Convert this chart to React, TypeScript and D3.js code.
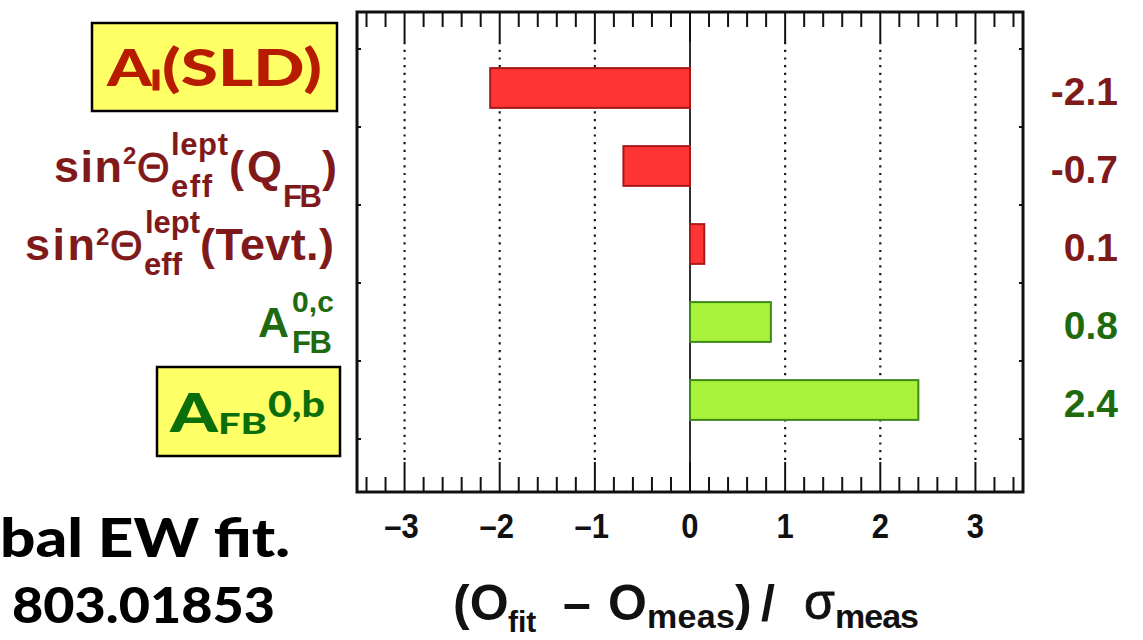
import React from 'react';
import * as d3 from 'd3';

/* ─── data ─── */
const categories = ['Al(SLD)', 'sin2Theta(QFB)', 'sin2Theta(Tevt.)', 'AFB0c', 'AFB0b'];
const pulls = [-2.1, -0.7, 0.15, 0.85, 2.4];
const pullLabels = ['-2.1', '-0.7', '0.1', '0.8', '2.4'];
const sectors = ['lep', 'lep', 'lep', 'had', 'had'];
const tickValues = [-3, -2, -1, 0, 1, 2, 3];

/* ─── palette ─── */
const C = {
    redFill: '#ff3434',
    redStroke: '#a81818',
    greenFill: '#a8f23c',
    greenStroke: '#3c8a18',
    maroon: '#801a1a',
    green: '#1e6a0e',
    boxRed: '#b81c00',
    boxGreen: '#0a6e0a',
    yellow: '#ffff66',
    grid: '#1a1a1a',
};

const ROOT = "'Liberation Sans', Arial, sans-serif";
const GILL = "Lato, 'Open Sans', sans-serif";

const W = 1143, H = 640;
const frame = { left: 357, right: 1023, top: 12, bottom: 492 };

export default function App() {
    const x = d3.scaleLinear().domain([-3.5, 3.5]).range([frame.left, frame.right]);
    const y = d3.scaleBand<string>().domain(categories).range([49, 439]).padding(0);
    const bw = y.bandwidth();
    const cy = (i: number) => (y(categories[i]) as number) + bw / 2;

    const minor = x.ticks(35).filter(t => Math.abs(Math.round(t) - t) > 1e-6);
    const bounds = d3.range(categories.length + 1).map(i => 49 + i * bw);

    const t = (props: any, s: string) => (
        <text fontFamily={ROOT} fontWeight={700} {...props}>{s}</text>
    );

    // category labels, laid out piece by piece like the ROOT latex
    const lab2 = (c: number) => (
        <g fill={C.maroon}>
            {t({ x: 54, y: c + 16, fontSize: 45, textLength: 68 }, 'sin')}
            {t({ x: 123, y: c - 2, fontSize: 24 }, '2')}
            {t({ x: 137, y: c + 16, fontSize: 42, fontWeight: 400, stroke: C.maroon, strokeWidth: 0.8 }, 'Θ')}
            {t({ x: 171, y: c - 11, fontSize: 31, textLength: 57 }, 'lept')}
            {t({ x: 171, y: c + 31, fontSize: 31, textLength: 41 }, 'eff')}
            {t({ x: 229, y: c + 16, fontSize: 45, textLength: 53 }, '(Q')}
            {t({ x: 283, y: c + 41, fontSize: 31, textLength: 39 }, 'FB')}
            {t({ x: 322, y: c + 16, fontSize: 45 }, ')')}
        </g>
    );
    const lab3 = (c: number) => (
        <g fill={C.maroon}>
            {t({ x: 25, y: c + 16, fontSize: 45, textLength: 70 }, 'sin')}
            {t({ x: 96, y: c + 1, fontSize: 24 }, '2')}
            {t({ x: 110, y: c + 16, fontSize: 42, fontWeight: 400, stroke: C.maroon, strokeWidth: 0.8 }, 'Θ')}
            {t({ x: 145, y: c - 11, fontSize: 31, textLength: 55 }, 'lept')}
            {t({ x: 144, y: c + 31, fontSize: 31, textLength: 38 }, 'eff')}
            {t({ x: 200, y: c + 16, fontSize: 45, textLength: 134 }, '(Tevt.)')}
        </g>
    );
    const lab4 = (c: number) => (
        <g fill={C.green}>
            {t({ x: 258, y: c + 15, fontSize: 43 }, 'A')}
            {t({ x: 292, y: c - 10, fontSize: 30, textLength: 42 }, '0,c')}
            {t({ x: 292, y: c + 31, fontSize: 31, textLength: 40 }, 'FB')}
        </g>
    );
    const box1 = (c: number) => (
        <g>
            <rect x={92} y={c - 65} width={245} height={88} fill={C.yellow} stroke="#000" strokeWidth={2.5} />
            <g fill={C.boxRed} fontFamily={GILL} fontWeight={900}>
                <text x={107} y={c - 2} fontSize={52} textLength={45} lengthAdjust="spacingAndGlyphs">A</text>
                <text x={151} y={c + 2} fontSize={27} textLength={10} lengthAdjust="spacingAndGlyphs"
                    stroke={C.boxRed} strokeWidth={1}>l</text>
                <text x={162} y={c - 2} fontSize={52} textLength={160} lengthAdjust="spacingAndGlyphs">(SLD)</text>
            </g>
        </g>
    );
    const box5 = (c: number) => (
        <g>
            <rect x={157} y={c - 33} width={183} height={89} fill={C.yellow} stroke="#000" strokeWidth={2.5} />
            <g fill={C.boxGreen} fontFamily={GILL} fontWeight={900}>
                <text x={170} y={c + 32} fontSize={54} textLength={48} lengthAdjust="spacingAndGlyphs">A</text>
                <text x={218} y={c + 34} fontSize={28} textLength={49} lengthAdjust="spacingAndGlyphs">FB</text>
                <text x={268} y={c + 17} fontSize={36} textLength={57} lengthAdjust="spacingAndGlyphs">0,b</text>
            </g>
        </g>
    );
    const labels = [box1, lab2, lab3, lab4, box5];

    return (
        <svg width={W} height={H} style={{ position: 'absolute', left: 0, top: 0, background: '#fff' }}>
            {/* grid lines */}
            {tickValues.map(v => v === 0
                ? <line key={v} x1={x(v)} x2={x(v)} y1={frame.top} y2={frame.bottom} stroke={C.grid} strokeWidth={1.8} />
                : <line key={v} x1={x(v)} x2={x(v)} y1={frame.top + 30} y2={frame.bottom - 30}
                    stroke={C.grid} strokeWidth={2.2} strokeDasharray="2.2 5.5" />)}

            {/* bars */}
            {pulls.map((p, i) => {
                const lep = sectors[i] === 'lep';
                const y0 = (y(categories[i]) as number) + bw * 0.245;
                return (
                    <rect key={i} x={Math.min(x(0), x(p))} y={y0} width={Math.abs(x(p) - x(0))} height={bw * 0.51}
                        fill={lep ? C.redFill : C.greenFill} stroke={lep ? C.redStroke : C.greenStroke} strokeWidth={2} />
                );
            })}

            {/* ticks top & bottom */}
            <g stroke="#111" strokeWidth={2}>
                {tickValues.map(v => (
                    <g key={'M' + v}>
                        <line x1={x(v)} x2={x(v)} y1={frame.top} y2={frame.top + 30} />
                        <line x1={x(v)} x2={x(v)} y1={frame.bottom} y2={frame.bottom - 30} />
                    </g>
                ))}
                {minor.map(v => (
                    <g key={'m' + v}>
                        <line x1={x(v)} x2={x(v)} y1={frame.top} y2={frame.top + 15} />
                        <line x1={x(v)} x2={x(v)} y1={frame.bottom} y2={frame.bottom - 15} />
                    </g>
                ))}
                {bounds.map(b => (
                    <g key={'b' + b}>
                        <line x1={frame.left} x2={frame.left + 4} y1={b} y2={b} />
                        <line x1={frame.right} x2={frame.right - 4} y1={b} y2={b} />
                    </g>
                ))}
            </g>

            {/* frame */}
            <rect x={frame.left} y={frame.top} width={frame.right - frame.left} height={frame.bottom - frame.top}
                fill="none" stroke="#111" strokeWidth={3} />

            {/* x tick labels */}
            {tickValues.map(v => (
                <text key={'tl' + v} x={x(v) - (v < 0 ? 3 : 0)} y={538} textAnchor="middle" fontFamily={ROOT}
                    fontWeight={700} fontSize={31} fill="#111" transform={`translate(0,538) scale(1,1.15) translate(0,-538)`}
                >{v < 0 ? '–' + Math.abs(v) : String(v)}</text>
            ))}

            {/* axis title */}
            <g fill="#111">
                {t({ x: 453, y: 620, fontSize: 50 }, '(O')}
                {t({ x: 508, y: 632, fontSize: 30 }, 'fit')}
                {t({ x: 563, y: 620, fontSize: 50 }, '–')}
                {t({ x: 608, y: 620, fontSize: 50 }, 'O')}
                {t({ x: 647, y: 628, fontSize: 34, textLength: 88 }, 'meas')}
                {t({ x: 735, y: 620, fontSize: 50 }, ')')}
                {t({ x: 761, y: 620, fontSize: 50 }, '/')}
                {t({ x: 804, y: 619, fontSize: 50, fontWeight: 400, stroke: '#111', strokeWidth: 0.8 }, 'σ')}
                {t({ x: 835, y: 628, fontSize: 34, textLength: 84 }, 'meas')}
            </g>

            {/* category labels */}
            {categories.map((_, i) => <g key={'cl' + i}>{labels[i](cy(i))}</g>)}

            {/* pull values */}
            {pullLabels.map((s, i) => (
                <text key={'pv' + i} x={1118} y={cy(i) + 17} textAnchor="end" fontFamily={ROOT} fontWeight={700}
                    fontSize={39} fill={sectors[i] === 'lep' ? C.maroon : C.green}>{s}</text>
            ))}

            {/* caption, cut at the page edge */}
            <g fill="#000" fontFamily={GILL} fontWeight={900}>
                <text x={0} y={557} fontSize={54} textLength={290} lengthAdjust="spacingAndGlyphs">bal EW fit.</text>
                <text x={12} y={623} fontSize={50} textLength={263} lengthAdjust="spacingAndGlyphs">803.01853</text>
            </g>
        </svg>
    );
}
